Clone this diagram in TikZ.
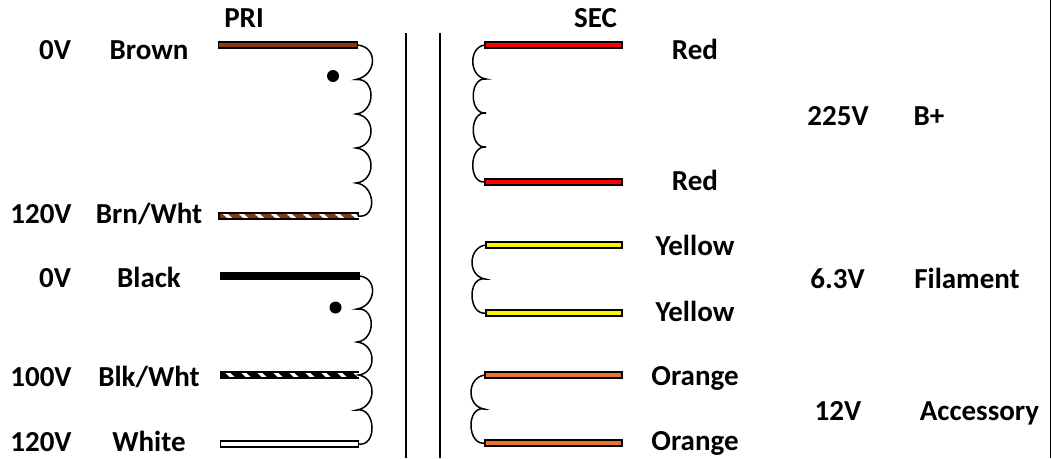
\documentclass[tikz,border=0pt]{standalone}
\usepackage{fontspec}
\setmainfont{Carlito}
\definecolor{brownw}{HTML}{843C0C}
\definecolor{orangew}{HTML}{E87330}
\tikzset{
  wire/.style={draw=black,line width=1.7pt,minimum height=5.4pt,inner sep=0pt,outer sep=0pt,anchor=west},
  lab/.style={font=\bfseries\fontsize{29}{29}\selectfont,text=black,inner sep=0pt,anchor=base},
  winding/.style={draw=black,line width=1.5pt},
  dotm/.style={circle,fill=black,minimum size=12pt,inner sep=0pt},
  core/.style={draw=black,line width=1.1pt}
}
\begin{document}
\begin{tikzpicture}[x=1pt,y=-1pt]
\useasboundingbox (0,0) rectangle (1051,458);
% wires
\node[wire,minimum width=139pt,fill=brownw] (brown) at (218.5,45) {};
\node[wire,minimum width=139pt,fill=brownw] (brnwht) at (219,216) {};
\node[wire,minimum width=139pt,fill=black] (black) at (220.5,276) {};
\node[wire,minimum width=138pt,fill=black] (blkwht) at (220.5,375) {};
\node[wire,minimum width=138pt,fill=white] (white) at (220.5,444) {};
\node[wire,minimum width=137pt,fill=red] (red1) at (485,45) {};
\node[wire,minimum width=137pt,fill=red] (red2) at (485,182) {};
\node[wire,minimum width=136pt,fill=yellow] (yel1) at (486,245) {};
\node[wire,minimum width=136pt,fill=yellow] (yel2) at (486,313) {};
\node[wire,minimum width=137pt,fill=orangew] (org1) at (485,375) {};
\node[wire,minimum width=137pt,fill=orangew] (org2) at (485,443) {};
\foreach \k in {0,...,8}{\fill[white] ([shift={(\k*16+4,-1.9)}]brnwht.west) -- ++(5,0) -- ++(4,3.8) -- ++(-5,0) -- cycle;}
\foreach \k in {0,...,8}{\fill[white] ([shift={(\k*16+5,-1.9)}]blkwht.west) -- ++(5,0) -- ++(4,3.8) -- ++(-5,0) -- cycle;}
% windings
\coordinate (p1) at (356,79.5); \coordinate (p2) at (356,114); \coordinate (p3) at (356,148); \coordinate (p4) at (356,183);
\draw[winding] (brown.east) .. controls +(21,2) and +(21,-4) .. (p1)
  .. controls +(20,-2) and +(20,-2) .. (p2)
  .. controls +(20,2) and +(20,-2) .. (p3)
  .. controls +(20,2) and +(20,-2) .. (p4)
  .. controls +(20,2) and +(19,3) .. (brnwht.east);
\coordinate (q1) at (357,309); \coordinate (q2) at (357,342); \coordinate (q3) at (357,410);
\draw[winding] (black.east) .. controls +(19,2) and +(19,-3) .. (q1)
  .. controls +(19,-2) and +(19,-2) .. (q2)
  .. controls +(19,2) and +(19,-2) .. (blkwht.east)
  .. controls +(19,3) and +(19,-3) .. (q3)
  .. controls +(19,-3) and +(19,3) .. (white.east);
\coordinate (r1) at (486,79); \coordinate (r2) at (486,113); \coordinate (r3) at (486,147);
\draw[winding] (red1.west) .. controls +(-17,2) and +(-17,-2) .. (r1)
  .. controls +(-17,-2) and +(-17,2) .. (r2)
  .. controls +(-17,-2) and +(-17,2) .. (r3)
  .. controls +(-17,-2) and +(-17,2) .. (red2.west);
\coordinate (y1) at (485,279);
\draw[winding] (yel1.west) .. controls +(-18,2) and +(-18,-3) .. (y1)
  .. controls +(-18,-3) and +(-18,3) .. (yel2.west);
\coordinate (o1) at (484,409);
\draw[winding] (org1.west) .. controls +(-18,2) and +(-18,-3) .. (o1)
  .. controls +(-18,-3) and +(-18,3) .. (org2.west);
% dots
\node[dotm] (d1) at (333,76) {};
\node[dotm] (d2) at (335.5,307.5) {};
% core
\coordinate (c1a) at (406,33); \coordinate (c1b) at (406,458);
\coordinate (c2a) at (440,33); \coordinate (c2b) at (440,458);
\draw[core] (c1a) -- (c1b);
\draw[core] (c2a) -- (c2b);
% right edge rule
\coordinate (ea) at (1050.4,0); \coordinate (eb) at (1050.4,458);
\draw[core] (ea) -- (eb);
% labels
\node[lab] (tpri) at (244,27) {PRI};
\node[lab] (tsec) at (595.5,27) {SEC};
\node[lab] (a1) at (55,59) {0V};
\node[lab] (a2) at (149,59) {Brown};
\node[lab] (a3) at (41,223) {120V};
\node[lab] (a4) at (149,223) {Brn/Wht};
\node[lab] (a5) at (55,287) {0V};
\node[lab] (a6) at (149,287) {Black};
\node[lab] (a7) at (41,386) {100V};
\node[lab] (a8) at (149,386) {Blk/Wht};
\node[lab] (a9) at (41,451) {120V};
\node[lab] (a10) at (149,451) {White};
\node[lab] (b1) at (695,59) {Red};
\node[lab] (b2) at (695,190) {Red};
\node[lab] (b3) at (695,255) {Yellow};
\node[lab] (b4) at (695,321) {Yellow};
\node[lab] (b5) at (695,385) {Orange};
\node[lab] (b6) at (695,450) {Orange};
\node[lab] (c1) at (838,125) {225V};
\node[lab] (c2) at (929,125) {B+};
\node[lab] (c3) at (837.5,288) {6.3V};
\node[lab] (c4) at (967,288) {Filament};
\node[lab] (c5) at (838,420) {12V};
\node[lab] (c6) at (979.5,420) {Accessory};
\end{tikzpicture}
\end{document}
